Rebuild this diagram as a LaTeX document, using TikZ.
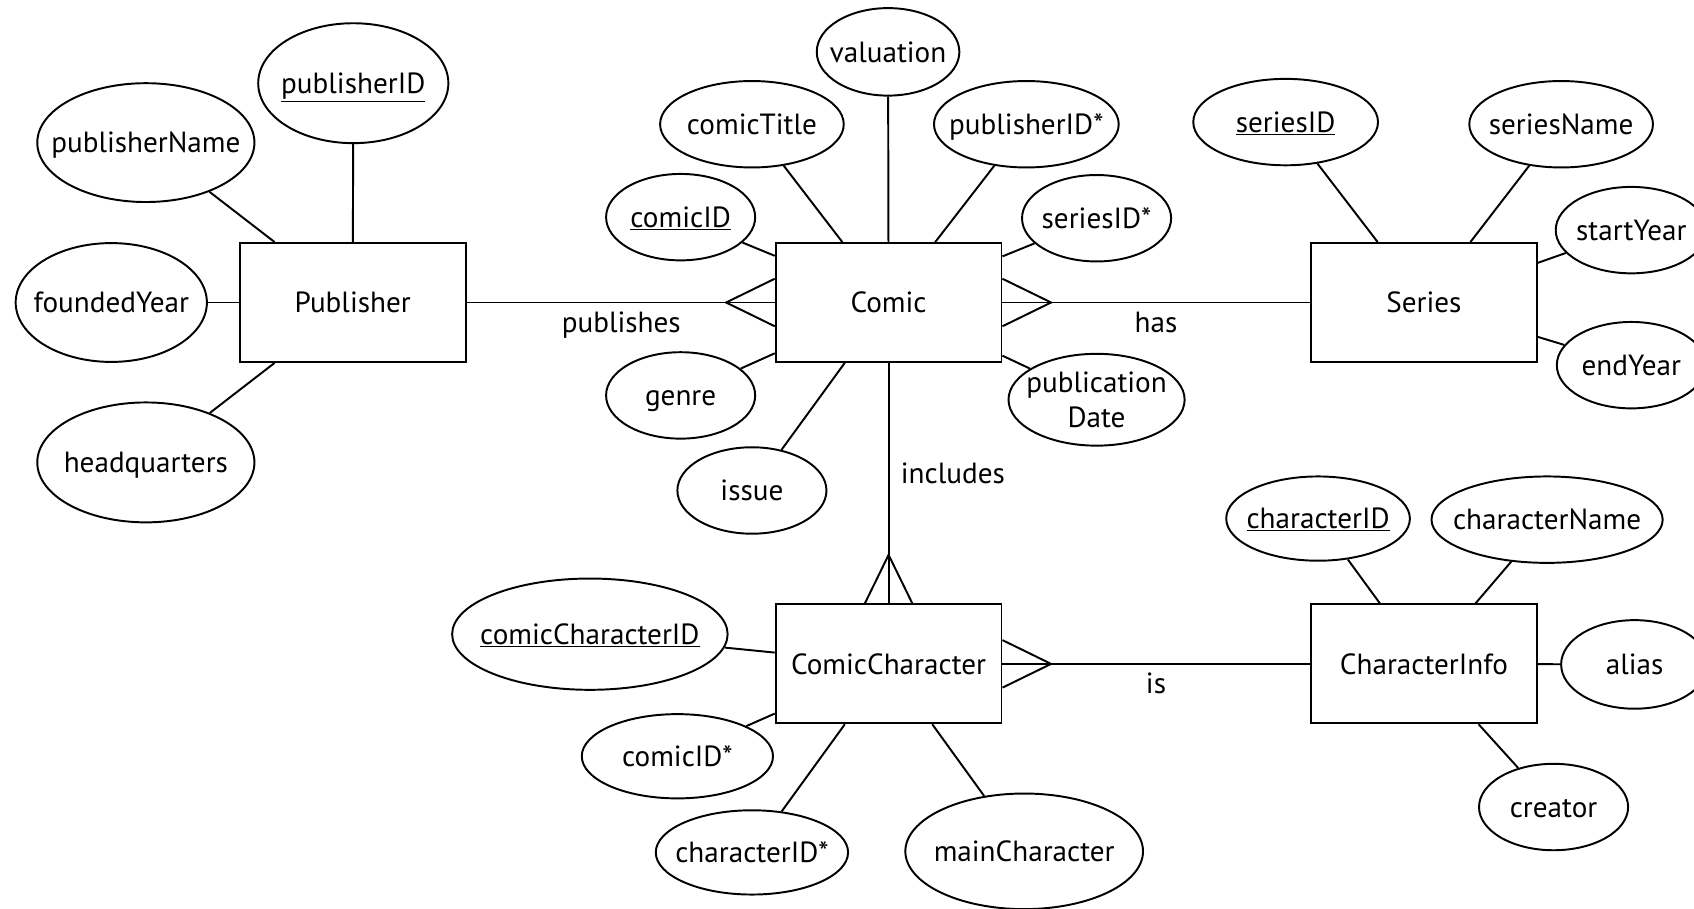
\documentclass[tikz,border=0pt]{standalone}
\usepackage{fontspec}
\setmainfont{PT Sans}
\usetikzlibrary{shapes.geometric}
\usetikzlibrary{positioning}

\begin{document}
\begin{tikzpicture}[x=1pt,y=-1pt,line width=1.8pt,
  every node/.style={font=\fontsize{27}{32}\selectfont,text height=19pt,text depth=0pt},
  entity/.style={draw,rectangle,minimum width=209,minimum height=110,inner sep=0pt},
  attr/.style={draw,ellipse,inner xsep=-120pt,inner ysep=-60pt,minimum width=138,minimum height=80},
  rel/.style={inner sep=1pt}]
  \useasboundingbox (0,0) rectangle (1568,841);
  \clip (0,0) rectangle (1568,841);
  % entities
  \node[entity] (publisher) at (326.5,280) {Publisher};
  \node[entity] (comic) at (822.5,280) {Comic};
  \node[entity] (series) at (1318,280) {Series};
  \node[entity] (comicchar) at (822.5,614.5) {ComicCharacter};
  \node[entity] (charinfo) at (1318,614.5) {CharacterInfo};
  % publisher attributes
  \node[attr,minimum width=176,minimum height=111] (pubid) at (327,77) {\underline{publisherID}};
  \node[attr,minimum width=201,minimum height=110] (pubname) at (135,132) {publisherName};
  \node[attr,minimum width=177,minimum height=110] (founded) at (103,280) {foundedYear};
  \node[attr,minimum width=201,minimum height=111] (hq) at (135,428) {headquarters};
  % comic attributes
  \node[attr,minimum width=132,minimum height=81] (valuation) at (822,48) {valuation};
  \node[attr,minimum width=170] (comictitle) at (696,115) {comicTitle};
  \node[attr,minimum width=171] (pubidfk) at (950,115) {publisherID*};
  \node[attr] (comicid) at (630,201) {\underline{comicID}};
  \node[attr] (seriesidfk) at (1015,202) {seriesID*};
  \node[attr] (genre) at (630,366) {genre};
  \node[attr] (issue) at (696,454) {issue};
  \node[attr,minimum width=163,minimum height=85,align=center,text height=51pt] (pubdate) at (1015,370) {publication\\Date};
  % series attributes
  \node[attr,minimum width=171] (seriesid) at (1190,113) {\underline{seriesID}};
  \node[attr,minimum width=170] (seriesname) at (1445,115) {seriesName};
  \node[attr,minimum width=140] (startyear) at (1510,213) {startYear};
  \node[attr] (endyear) at (1510,338) {endYear};
  % character info attributes
  \node[attr,minimum width=170,minimum height=78] (charid) at (1220,480) {\underline{characterID}};
  \node[attr,minimum width=214] (charname) at (1432,481) {characterName};
  \node[attr,minimum width=136,minimum height=82] (alias) at (1513,615) {alias};
  \node[attr] (creator) at (1438,747) {creator};
  % comic character attributes
  \node[attr,minimum width=255,minimum height=103] (ccid) at (546,587) {\underline{comicCharacterID}};
  \node[attr,minimum width=177,minimum height=78] (comicidfk) at (627,700) {comicID*};
  \node[attr,minimum width=178,minimum height=78] (charidfk) at (696,789) {characterID*};
  \node[attr,minimum width=220,minimum height=107] (mainchar) at (948,788) {mainCharacter};
  % attribute lines
  \draw (publisher)--(pubid);
  \draw (publisher)--(pubname);
  \draw (publisher)--(founded);
  \draw (publisher)--(hq);
  \draw (comic)--(valuation);
  \draw (comic)--(comictitle);
  \draw (comic)--(pubidfk);
  \draw (comic)--(comicid);
  \draw (comic)--(seriesidfk);
  \draw (comic)--(genre);
  \draw (comic)--(issue);
  \draw (comic)--(pubdate);
  \draw (series)--(seriesid);
  \draw (series)--(seriesname);
  \draw (series)--(startyear);
  \draw (series)--(endyear);
  \draw (charinfo)--(charid);
  \draw (charinfo)--(charname);
  \draw (charinfo)--(alias);
  \draw (charinfo)--(creator);
  \draw (comicchar)--(ccid);
  \draw (comicchar)--(comicidfk);
  \draw (comicchar)--(charidfk);
  \draw (comicchar)--(mainchar);
  % relationships
  \draw (publisher)--(comic);
  \draw (comic)--(series);
  \draw (comic)--(comicchar);
  \draw (comicchar)--(charinfo);
  \coordinate (pubfoot) at ([xshift=-45pt]comic.west);
  \coordinate (hasfoot) at ([xshift=45pt]comic.east);
  \coordinate (incfoot) at ([yshift=45pt]comicchar.north);
  \coordinate (isfoot) at ([xshift=45pt]comicchar.east);
  \draw ([yshift=22pt]comic.west)--(pubfoot)--([yshift=-22pt]comic.west);
  \draw ([yshift=22pt]comic.east)--(hasfoot)--([yshift=-22pt]comic.east);
  \draw ([xshift=-22pt]comicchar.north)--(incfoot)--([xshift=22pt]comicchar.north);
  \draw ([yshift=22pt]comicchar.east)--(isfoot)--([yshift=-22pt]comicchar.east);
  \node[rel] (publishes) at (575,298) {publishes};
  \node[rel] (has) at (1070,298) {has};
  \node[rel] (includes) at (882,438) {includes};
  \node[rel] (is) at (1070,632) {is};
\end{tikzpicture}
\end{document}
